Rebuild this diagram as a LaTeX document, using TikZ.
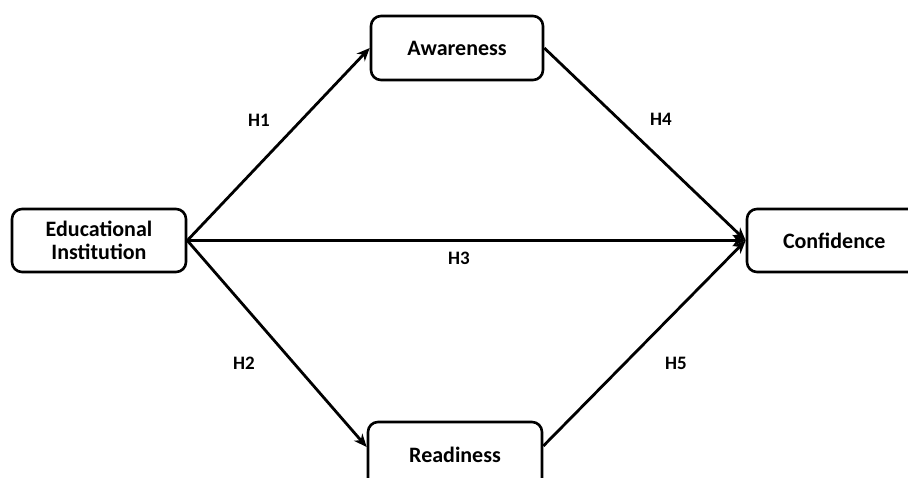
\documentclass[tikz,border=0pt]{standalone}
\usepackage{fontspec}
\setmainfont{Carlito}
\usetikzlibrary{arrows.meta}
\begin{document}
\begin{tikzpicture}[x=1pt,y=-1pt,
  box/.style={draw=black, line width=2.6pt, rounded corners=10pt, fill=white, font=\bfseries\fontsize{22}{26}\selectfont, align=center, inner sep=0pt},
  link/.style={line width=2.8pt, -{Stealth[length=13pt,width=11pt,inset=4pt]}},
  hlab/.style={font=\bfseries\fontsize{19}{21}\selectfont, inner sep=0pt}]
\useasboundingbox (0,0) rectangle (908,477);
\clip (0,0) rectangle (908,477);
\fill[white] (0,0) rectangle (908,477);
\node[box, minimum width=174pt, minimum height=63pt] (edu) at (99,240.5) {Educational\\[-3pt]Institution};
\node[box, minimum width=172pt, minimum height=64pt] (aw) at (457,48) {Awareness};
\node[box, minimum width=176pt, minimum height=63pt, text width=150pt, align=left] (conf) at (835,240.5) {\hspace{23pt}Confidence};
\node[box, minimum width=174pt, minimum height=66pt] (rd) at (455,455) {Readiness};
\draw[link] (edu.east) -- (aw.west);
\draw[link] (edu.east) -- ([yshift=8pt]rd.west);
\draw[link] (edu.east) -- (conf.west);
\draw[link] (aw.east) -- (conf.west);
\draw[link] ([yshift=9pt]rd.east) -- (conf.west);
\node[hlab] (h1) at (259,120.5) {H1};
\node[hlab] (h4) at (661,119) {H4};
\node[hlab] (h3) at (459,258.5) {H3};
\node[hlab] (h2) at (244,363) {H2};
\node[hlab] (h5) at (676,363) {H5};
\end{tikzpicture}
\end{document}
